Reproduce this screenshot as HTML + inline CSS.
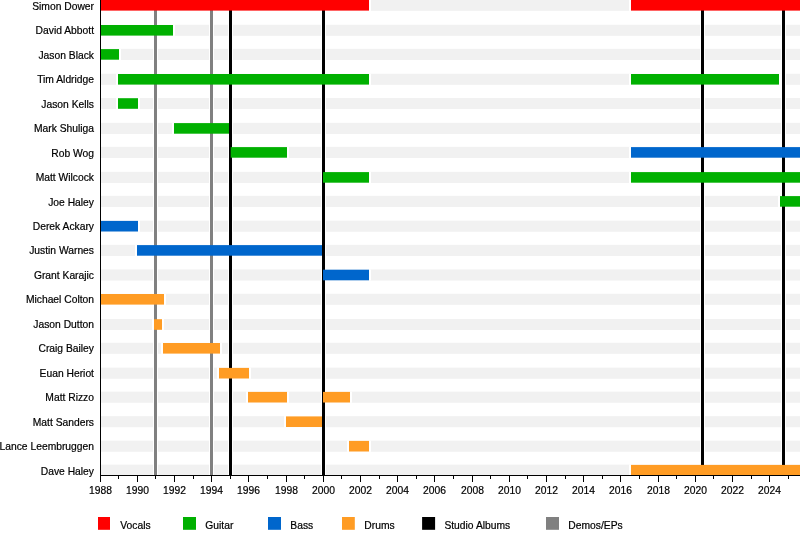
<!DOCTYPE html><html><head><meta charset="utf-8"><style>html,body{margin:0;padding:0;background:#fff;width:800px;height:535px;overflow:hidden}svg{display:block}text{font-family:"Liberation Sans",sans-serif;fill:#000;stroke:#000;stroke-width:0.2px}</style></head><body>
<svg width="800" height="535" viewBox="0 0 800 535" style="will-change:transform">
<rect width="800" height="535" fill="#fff"/>
<rect x="101" y="-0.25" width="699" height="11.10" fill="#f1f1f1"/>
<rect x="101" y="24.75" width="699" height="11.10" fill="#f1f1f1"/>
<rect x="101" y="48.85" width="699" height="11.10" fill="#f1f1f1"/>
<rect x="101" y="73.75" width="699" height="11.10" fill="#f1f1f1"/>
<rect x="101" y="97.95" width="699" height="11.10" fill="#f1f1f1"/>
<rect x="101" y="122.85" width="699" height="11.10" fill="#f1f1f1"/>
<rect x="101" y="146.85" width="699" height="11.10" fill="#f1f1f1"/>
<rect x="101" y="171.85" width="699" height="11.10" fill="#f1f1f1"/>
<rect x="101" y="195.85" width="699" height="11.10" fill="#f1f1f1"/>
<rect x="101" y="220.65" width="699" height="11.10" fill="#f1f1f1"/>
<rect x="101" y="244.85" width="699" height="11.10" fill="#f1f1f1"/>
<rect x="101" y="269.45" width="699" height="11.10" fill="#f1f1f1"/>
<rect x="101" y="293.75" width="699" height="11.10" fill="#f1f1f1"/>
<rect x="101" y="318.95" width="699" height="11.10" fill="#f1f1f1"/>
<rect x="101" y="342.75" width="699" height="11.10" fill="#f1f1f1"/>
<rect x="101" y="367.65" width="699" height="11.10" fill="#f1f1f1"/>
<rect x="101" y="391.65" width="699" height="11.10" fill="#f1f1f1"/>
<rect x="101" y="416.15" width="699" height="11.10" fill="#f1f1f1"/>
<rect x="101" y="440.65" width="699" height="11.10" fill="#f1f1f1"/>
<rect x="101" y="464.65" width="699" height="11.10" fill="#f1f1f1"/>
<rect x="153" y="0" width="5" height="475" fill="#fff"/>
<rect x="209" y="0" width="5" height="475" fill="#fff"/>
<rect x="228" y="0" width="5" height="475" fill="#fff"/>
<rect x="321" y="0" width="5" height="475" fill="#fff"/>
<rect x="700" y="0" width="5" height="475" fill="#fff"/>
<rect x="781" y="0" width="5" height="475" fill="#fff"/>
<rect x="99.00" y="-0.25" width="272.00" height="11.10" fill="#fff"/>
<rect x="629.00" y="-0.25" width="173.00" height="11.10" fill="#fff"/>
<rect x="99.00" y="24.75" width="76.00" height="11.10" fill="#fff"/>
<rect x="99.00" y="48.85" width="22.00" height="11.10" fill="#fff"/>
<rect x="116.00" y="73.75" width="255.00" height="11.10" fill="#fff"/>
<rect x="629.00" y="73.75" width="152.00" height="11.10" fill="#fff"/>
<rect x="116.00" y="97.95" width="24.00" height="11.10" fill="#fff"/>
<rect x="172.00" y="122.85" width="59.00" height="11.10" fill="#fff"/>
<rect x="228.70" y="146.85" width="60.30" height="11.10" fill="#fff"/>
<rect x="629.00" y="146.85" width="173.00" height="11.10" fill="#fff"/>
<rect x="321.00" y="171.85" width="50.00" height="11.10" fill="#fff"/>
<rect x="629.00" y="171.85" width="173.00" height="11.10" fill="#fff"/>
<rect x="778.00" y="195.85" width="24.00" height="11.10" fill="#fff"/>
<rect x="99.00" y="220.65" width="41.00" height="11.10" fill="#fff"/>
<rect x="135.00" y="244.85" width="189.00" height="11.10" fill="#fff"/>
<rect x="321.00" y="269.45" width="50.00" height="11.10" fill="#fff"/>
<rect x="99.00" y="293.75" width="67.00" height="11.10" fill="#fff"/>
<rect x="152.00" y="318.95" width="12.00" height="11.10" fill="#fff"/>
<rect x="161.00" y="342.75" width="61.00" height="11.10" fill="#fff"/>
<rect x="217.00" y="367.65" width="34.00" height="11.10" fill="#fff"/>
<rect x="246.00" y="391.65" width="43.00" height="11.10" fill="#fff"/>
<rect x="321.00" y="391.65" width="31.00" height="11.10" fill="#fff"/>
<rect x="284.00" y="416.15" width="40.00" height="11.10" fill="#fff"/>
<rect x="347.00" y="440.65" width="24.00" height="11.10" fill="#fff"/>
<rect x="629.00" y="464.65" width="173.00" height="11.10" fill="#fff"/>
<rect x="154" y="0" width="3" height="475" fill="#808080"/>
<rect x="210" y="0" width="3" height="475" fill="#808080"/>
<rect x="229" y="0" width="3" height="475" fill="#000"/>
<rect x="322" y="0" width="3" height="475" fill="#000"/>
<rect x="701" y="0" width="3" height="475" fill="#000"/>
<rect x="782" y="0" width="3" height="475" fill="#000"/>
<rect x="101.00" y="0.00" width="268.00" height="10.6" fill="#ff0000"/>
<rect x="631.00" y="0.00" width="169.00" height="10.6" fill="#ff0000"/>
<rect x="101.00" y="25.00" width="72.00" height="10.6" fill="#00b000"/>
<rect x="101.00" y="49.10" width="18.00" height="10.6" fill="#00b000"/>
<rect x="118.00" y="74.00" width="251.00" height="10.6" fill="#00b000"/>
<rect x="631.00" y="74.00" width="148.00" height="10.6" fill="#00b000"/>
<rect x="118.00" y="98.20" width="20.00" height="10.6" fill="#00b000"/>
<rect x="174.00" y="123.10" width="55.00" height="10.6" fill="#00b000"/>
<rect x="230.70" y="147.10" width="56.30" height="10.6" fill="#00b000"/>
<rect x="631.00" y="147.10" width="169.00" height="10.6" fill="#0066cc"/>
<rect x="323.00" y="172.10" width="46.00" height="10.6" fill="#00b000"/>
<rect x="631.00" y="172.10" width="169.00" height="10.6" fill="#00b000"/>
<rect x="780.00" y="196.10" width="20.00" height="10.6" fill="#00b000"/>
<rect x="101.00" y="220.90" width="37.00" height="10.6" fill="#0066cc"/>
<rect x="137.00" y="245.10" width="185.00" height="10.6" fill="#0066cc"/>
<rect x="323.00" y="269.70" width="46.00" height="10.6" fill="#0066cc"/>
<rect x="101.00" y="294.00" width="63.00" height="10.6" fill="#ff9c24"/>
<rect x="154.00" y="319.20" width="8.00" height="10.6" fill="#ff9c24"/>
<rect x="163.00" y="343.00" width="57.00" height="10.6" fill="#ff9c24"/>
<rect x="219.00" y="367.90" width="30.00" height="10.6" fill="#ff9c24"/>
<rect x="248.00" y="391.90" width="39.00" height="10.6" fill="#ff9c24"/>
<rect x="323.00" y="391.90" width="27.00" height="10.6" fill="#ff9c24"/>
<rect x="286.00" y="416.40" width="36.00" height="10.6" fill="#ff9c24"/>
<rect x="349.00" y="440.90" width="20.00" height="10.6" fill="#ff9c24"/>
<rect x="631.00" y="464.90" width="169.00" height="10.6" fill="#ff9c24"/>
<rect x="100" y="0" width="1" height="476" fill="#000"/>
<rect x="100" y="475" width="700" height="1" fill="#000"/>
<rect x="100" y="476" width="1" height="6" fill="#000"/>
<text x="100.50" y="493.5" font-size="10.3" text-anchor="middle">1988</text>
<rect x="118" y="476" width="1" height="3" fill="#000"/>
<rect x="137" y="476" width="1" height="6" fill="#000"/>
<text x="137.50" y="493.5" font-size="10.3" text-anchor="middle">1990</text>
<rect x="155" y="476" width="1" height="3" fill="#000"/>
<rect x="174" y="476" width="1" height="6" fill="#000"/>
<text x="174.50" y="493.5" font-size="10.3" text-anchor="middle">1992</text>
<rect x="193" y="476" width="1" height="3" fill="#000"/>
<rect x="211" y="476" width="1" height="6" fill="#000"/>
<text x="211.50" y="493.5" font-size="10.3" text-anchor="middle">1994</text>
<rect x="230" y="476" width="1" height="3" fill="#000"/>
<rect x="248" y="476" width="1" height="6" fill="#000"/>
<text x="248.50" y="493.5" font-size="10.3" text-anchor="middle">1996</text>
<rect x="267" y="476" width="1" height="3" fill="#000"/>
<rect x="286" y="476" width="1" height="6" fill="#000"/>
<text x="286.50" y="493.5" font-size="10.3" text-anchor="middle">1998</text>
<rect x="304" y="476" width="1" height="3" fill="#000"/>
<rect x="323" y="476" width="1" height="6" fill="#000"/>
<text x="323.50" y="493.5" font-size="10.3" text-anchor="middle">2000</text>
<rect x="341" y="476" width="1" height="3" fill="#000"/>
<rect x="360" y="476" width="1" height="6" fill="#000"/>
<text x="360.50" y="493.5" font-size="10.3" text-anchor="middle">2002</text>
<rect x="379" y="476" width="1" height="3" fill="#000"/>
<rect x="397" y="476" width="1" height="6" fill="#000"/>
<text x="397.50" y="493.5" font-size="10.3" text-anchor="middle">2004</text>
<rect x="416" y="476" width="1" height="3" fill="#000"/>
<rect x="434" y="476" width="1" height="6" fill="#000"/>
<text x="434.50" y="493.5" font-size="10.3" text-anchor="middle">2006</text>
<rect x="453" y="476" width="1" height="3" fill="#000"/>
<rect x="472" y="476" width="1" height="6" fill="#000"/>
<text x="472.50" y="493.5" font-size="10.3" text-anchor="middle">2008</text>
<rect x="490" y="476" width="1" height="3" fill="#000"/>
<rect x="509" y="476" width="1" height="6" fill="#000"/>
<text x="509.50" y="493.5" font-size="10.3" text-anchor="middle">2010</text>
<rect x="527" y="476" width="1" height="3" fill="#000"/>
<rect x="546" y="476" width="1" height="6" fill="#000"/>
<text x="546.50" y="493.5" font-size="10.3" text-anchor="middle">2012</text>
<rect x="565" y="476" width="1" height="3" fill="#000"/>
<rect x="583" y="476" width="1" height="6" fill="#000"/>
<text x="583.50" y="493.5" font-size="10.3" text-anchor="middle">2014</text>
<rect x="602" y="476" width="1" height="3" fill="#000"/>
<rect x="620" y="476" width="1" height="6" fill="#000"/>
<text x="620.50" y="493.5" font-size="10.3" text-anchor="middle">2016</text>
<rect x="639" y="476" width="1" height="3" fill="#000"/>
<rect x="658" y="476" width="1" height="6" fill="#000"/>
<text x="658.50" y="493.5" font-size="10.3" text-anchor="middle">2018</text>
<rect x="676" y="476" width="1" height="3" fill="#000"/>
<rect x="695" y="476" width="1" height="6" fill="#000"/>
<text x="695.50" y="493.5" font-size="10.3" text-anchor="middle">2020</text>
<rect x="713" y="476" width="1" height="3" fill="#000"/>
<rect x="732" y="476" width="1" height="6" fill="#000"/>
<text x="732.50" y="493.5" font-size="10.3" text-anchor="middle">2022</text>
<rect x="751" y="476" width="1" height="3" fill="#000"/>
<rect x="769" y="476" width="1" height="6" fill="#000"/>
<text x="769.50" y="493.5" font-size="10.3" text-anchor="middle">2024</text>
<rect x="788" y="476" width="1" height="3" fill="#000"/>
<text x="94.0" y="9.85" font-size="10.3" text-anchor="end">Simon Dower</text>
<text x="94.0" y="34.31" font-size="10.3" text-anchor="end">David Abbott</text>
<text x="94.0" y="58.77" font-size="10.3" text-anchor="end">Jason Black</text>
<text x="94.0" y="83.23" font-size="10.3" text-anchor="end">Tim Aldridge</text>
<text x="94.0" y="107.69" font-size="10.3" text-anchor="end">Jason Kells</text>
<text x="94.0" y="132.15" font-size="10.3" text-anchor="end">Mark Shuliga</text>
<text x="94.0" y="156.61" font-size="10.3" text-anchor="end">Rob Wog</text>
<text x="94.0" y="181.07" font-size="10.3" text-anchor="end">Matt Wilcock</text>
<text x="94.0" y="205.53" font-size="10.3" text-anchor="end">Joe Haley</text>
<text x="94.0" y="229.99" font-size="10.3" text-anchor="end">Derek Ackary</text>
<text x="94.0" y="254.45" font-size="10.3" text-anchor="end">Justin Warnes</text>
<text x="94.0" y="278.91" font-size="10.3" text-anchor="end">Grant Karajic</text>
<text x="94.0" y="303.37" font-size="10.3" text-anchor="end">Michael Colton</text>
<text x="94.0" y="327.83" font-size="10.3" text-anchor="end">Jason Dutton</text>
<text x="94.0" y="352.29" font-size="10.3" text-anchor="end">Craig Bailey</text>
<text x="94.0" y="376.75" font-size="10.3" text-anchor="end">Euan Heriot</text>
<text x="94.0" y="401.21" font-size="10.3" text-anchor="end">Matt Rizzo</text>
<text x="94.0" y="425.67" font-size="10.3" text-anchor="end">Matt Sanders</text>
<text x="94.0" y="450.13" font-size="10.3" text-anchor="end">Lance Leembruggen</text>
<text x="94.0" y="474.59" font-size="10.3" text-anchor="end">Dave Haley</text>
<rect x="98" y="517" width="12" height="12.8" fill="#ff0000"/>
<text x="120.3" y="529" font-size="10.3">Vocals</text>
<rect x="183" y="517" width="13" height="12.8" fill="#00b000"/>
<text x="205.3" y="529" font-size="10.3">Guitar</text>
<rect x="268" y="517" width="13" height="12.8" fill="#0066cc"/>
<text x="290.3" y="529" font-size="10.3">Bass</text>
<rect x="342" y="517" width="12.8" height="12.8" fill="#ff9c24"/>
<text x="364.3" y="529" font-size="10.3">Drums</text>
<rect x="422.1" y="517" width="13" height="12.8" fill="#000"/>
<text x="444.4" y="529" font-size="10.3">Studio Albums</text>
<rect x="546" y="517" width="13" height="12.8" fill="#808080"/>
<text x="568.3" y="529" font-size="10.3">Demos/EPs</text>
</svg></body></html>
